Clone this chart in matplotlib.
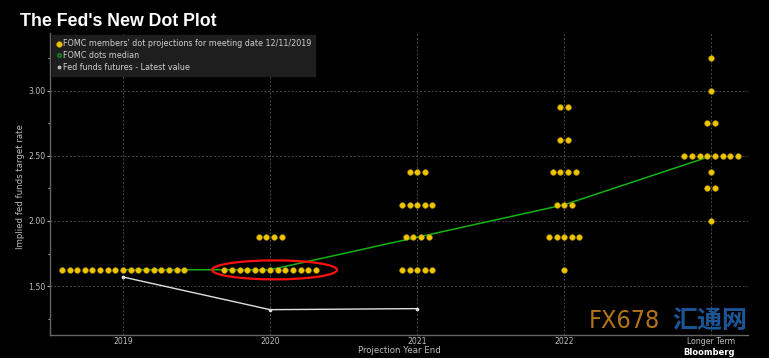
import matplotlib
matplotlib.use('Agg')
import matplotlib.pyplot as plt
from matplotlib.patches import Ellipse
from matplotlib.ticker import MultipleLocator

# categories on the x axis
categorias = ['2019', '2020', '2021', '2022', 'Longer Term']

# dot projections: (rate, number of members) per category
dots2019 = [(1.625, 17)]
dots2020 = [(1.875, 4), (1.625, 13)]
dots2021 = [(2.375, 3), (2.125, 5), (1.875, 4), (1.625, 5)]
dots2022 = [(2.875, 2), (2.625, 2), (2.375, 4), (2.125, 3), (1.875, 5), (1.625, 1)]
dotsLongo = [(3.25, 1), (3.0, 1), (2.75, 2), (2.5, 8), (2.375, 1), (2.25, 2), (2.0, 1)]
todosDots = [dots2019, dots2020, dots2021, dots2022, dotsLongo]

# median of the dots
mediana = [1.625, 1.625, 1.875, 2.125, 2.5]

# fed funds futures - latest value
futurosX = [0, 1, 2]
futuros = [1.569, 1.318, 1.326]

fundo = 'black'
cinza = '#bdbdbd'

fig = plt.figure(figsize=(7.69, 3.58), dpi=100, facecolor=fundo)
ax = fig.add_axes([50/769, (358-334.5)/358, 698/769, 301.5/358], facecolor=fundo)

# median line first so the dots sit on top
ax.plot(range(len(mediana)), mediana, color='#12b312', lw=1.1, zorder=2)
ax.plot(futurosX, futuros, color='#e0e0e0', lw=1.0, marker='o', ms=1.6, zorder=2)

passo = 0.052
xs, ys = [], []
for i, grupo in enumerate(todosDots):
    for taxa, n in grupo:
        for j in range(n):
            xs.append(i + (j - (n - 1) / 2) * passo)
            ys.append(taxa)
ax.scatter(xs, ys, s=17, color='#eec400', edgecolors='#a88a00', linewidths=0.4, zorder=3)

# red circle around the 2020 dots
ax.add_patch(Ellipse((1.03, 1.624), 0.85, 0.146, fill=False, edgecolor='#ff1010', lw=1.6, zorder=4))

ax.set_xlim(-0.497, 4.25)
ax.set_ylim(1.127, 3.446)
ax.set_xticks(range(len(categorias)))
ax.set_xticklabels(categorias)
ax.yaxis.set_major_locator(MultipleLocator(0.5))
ax.yaxis.set_minor_locator(MultipleLocator(0.25))
ax.yaxis.set_major_formatter(matplotlib.ticker.FormatStrFormatter('%.2f'))
ax.grid(True, which='major', color='#4a4a4a', ls=(0, (2, 2)), lw=0.7)
ax.tick_params(axis='both', colors=cinza, labelsize=5.6, length=2.5, width=0.8)
ax.tick_params(axis='y', pad=1)
ax.tick_params(axis='y', which='minor', colors=cinza, length=1.5)
ax.tick_params(axis='x', length=0, pad=1.5)
for lado in ['top', 'right']:
    ax.spines[lado].set_visible(False)
for lado in ['left', 'bottom']:
    ax.spines[lado].set_color('#666666')
    ax.spines[lado].set_linewidth(1.0)

ax.set_xlabel('Projection Year End', color=cinza, fontsize=6.2, labelpad=0.5)
ax.set_ylabel('Implied fed funds target rate', color=cinza, fontsize=6.2)
ax.yaxis.set_label_coords(-0.036, 0.49)

# legend
h1 = ax.scatter([], [], s=17, color='#eec400', edgecolors='#a88a00', linewidths=0.4)
h2, = ax.plot([], [], ls='none', marker='o', ms=2.5, mfc='none', mec='#12b312', mew=0.8)
h3, = ax.plot([], [], ls='none', marker='o', ms=1.8, color='#bbbbbb')
leg = ax.legend([h1, h2, h3],
                ["FOMC members' dot projections for meeting date 12/11/2019",
                 'FOMC dots median', 'Fed funds futures - Latest value'],
                loc='upper left', bbox_to_anchor=(0.0, 1.0), fontsize=5.8,
                frameon=True, fancybox=False, handlelength=0.6, handletextpad=0.2,
                labelspacing=0.35, borderpad=0.5, borderaxespad=0.3)
leg.get_frame().set_facecolor('#1e1e1e')
leg.get_frame().set_edgecolor('#1e1e1e')
leg.get_frame().set_alpha(1)
for t in leg.get_texts():
    t.set_color('#d0d0d0')

fig.text(20/769, 1 - 21/358, "The Fed's New Dot Plot", color='white', fontsize=12.8,
         fontweight='bold', ha='left', va='center', family='Liberation Sans')

# watermark
fig.text(589/769, 1 - 321/358, 'FX678', color='#c8801c', fontsize=18, ha='left', va='center',
         family='DejaVu Sans', fontstretch='condensed', alpha=0.9)
fig.text(672/769, 1 - 321/358, '汇通网', color='#1f5fa8', fontsize=18, ha='left', va='center',
         family=['Noto Sans CJK SC', 'DejaVu Sans'], fontweight='bold', alpha=0.9)
fig.text(683/769, 0.003, 'Bloomberg', color='white', fontsize=6, ha='left', va='bottom',
         fontweight='bold')

fig.savefig('out.png', dpi=100, facecolor=fundo)
